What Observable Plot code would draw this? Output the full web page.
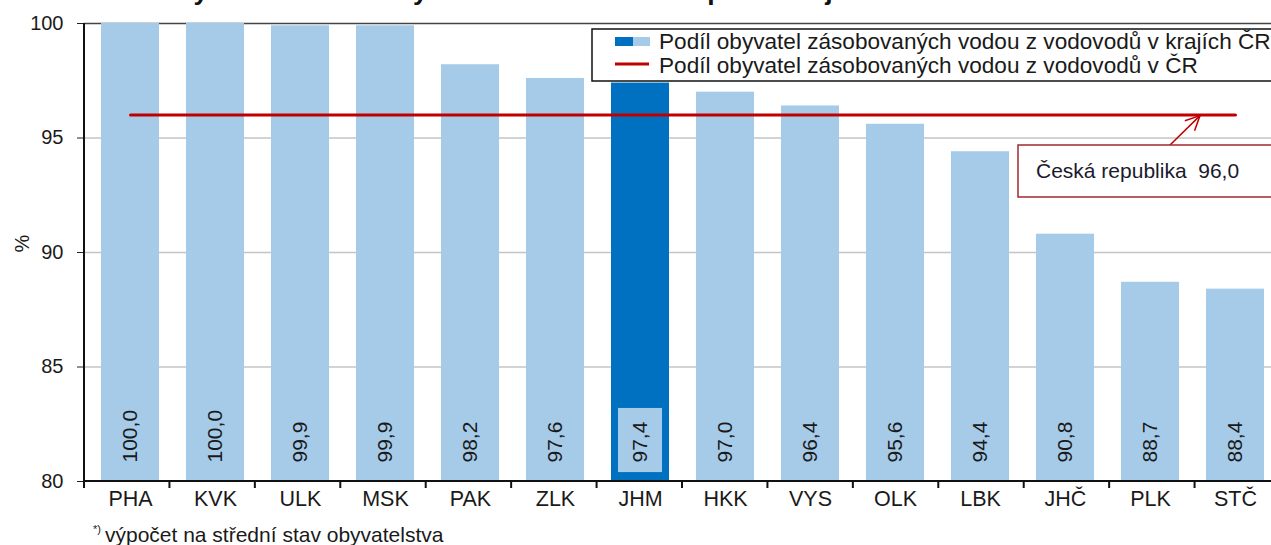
<!DOCTYPE html>
<html>
<head>
<meta charset="utf-8">
<script src="https://cdn.jsdelivr.net/npm/d3@7"></script>
<script src="https://cdn.jsdelivr.net/npm/@observablehq/plot@0.6"></script>
<style>
  body { margin: 0; background: #fff; font-family: Arial, "Liberation Sans", sans-serif; overflow: hidden; }
  #wrap { position: relative; width: 1271px; height: 545px; overflow: hidden; }
  #title { position: absolute; left: 5px; top: -22px; font-size: 26.5px; font-weight: bold; color: #111; white-space: nowrap; line-height: 26px; }
  #chart { position: absolute; left: 0; top: 0; }
  #note { position: absolute; left: 93px; top: 517px; font-size: 21px; color: #1a1a1a; white-space: nowrap; line-height: 25px; }
  #note sup { font-size: 11px; vertical-align: 9px; margin-right: 4px; }
</style>
</head>
<body>
<div id="wrap">
  <div id="title">Graf 1 Podíl obyvatel zásobovaných vodou z vodovodů podle krajů v roce 2019</div>
  <div id="chart"></div>
  <div id="note"><sup>*)</sup>výpočet na střední stav obyvatelstva</div>
</div>
<script>
const kraje = ["PHA","KVK","ULK","MSK","PAK","ZLK","JHM","HKK","VYS","OLK","LBK","JHČ","PLK","STČ"];
const podil = [100.0,100.0,99.9,99.9,98.2,97.6,97.4,97.0,96.4,95.6,94.4,90.8,88.7,88.4];
const zvyrazneny = "JHM";
const podilCR = 96.0;
const yTicks = [80,85,90,95,100];
const gridTicks = [85,90,95];
const legendLabels = ["Podíl obyvatel zásobovaných vodou z vodovodů v krajích ČR", "Podíl obyvatel zásobovaných vodou z vodovodů v ČR"];
const annotationText = "Česká republika  96,0";

const light = "#a6cbe8", dark = "#0070c0", red = "#c00000";
const data = kraje.map((k, i) => ({kraj: k, value: podil[i]}));
const fmt = v => d3.format(".1f")(v).replace(".", ",");

const chart = Plot.plot({
  width: 1271, height: 512,
  marginTop: 23, marginBottom: 31, marginLeft: 84, marginRight: 0,
  style: {fontFamily: "Arial, 'Liberation Sans', sans-serif", color: "#1a1a1a", background: "transparent"},
  x: {domain: kraje, range: [84, 1280], paddingInner: 0.32, paddingOuter: 0.16, label: null},
  y: {domain: [80, 100], range: [481, 23], label: null},
  marks: [
    Plot.gridY(gridTicks, {stroke: "#c4c4c4", strokeOpacity: 1, strokeWidth: 1.5}),
    Plot.ruleY([100], {stroke: "#444", strokeWidth: 1.5}),
    Plot.barY(data, {x: "kraj", y1: 80, y2: "value", fill: d => d.kraj === zvyrazneny ? dark : light}),
    Plot.barY(data.filter(d => d.kraj === zvyrazneny), {x: "kraj", y1: 80.39, y2: 83.19, fill: light, insetLeft: 7, insetRight: 7}),
    Plot.text(data, {x: "kraj", y: () => 80.83, text: d => fmt(d.value), rotate: -90, textAnchor: "start", fontSize: 21, fill: "#1a1a1a"}),
    Plot.lineY(data, {x: "kraj", y: () => podilCR, stroke: red, strokeWidth: 3}),
    Plot.axisY(yTicks, {tickSize: 7, tickPadding: 14, fontSize: 20, label: null, stroke: "#222"}),
    Plot.axisX({tickSize: 0, tickPadding: 9, fontSize: 21.5, label: null}),
    Plot.text(["%"], {frameAnchor: "left", dx: -62, rotate: -90, fontSize: 20, fill: "#1a1a1a"})
  ]
});
document.getElementById("chart").appendChild(chart);

// decorations drawn from the scales
const svg = d3.select(chart);
const xs = chart.scale("x"), ys = chart.scale("y");
const x0 = xs.range[0], x1 = xs.range[1];
const step = (x1 - x0) / kraje.length;
const yBase = ys.apply(80), yTop = ys.apply(100);
const g = svg.append("g");
g.append("line").attr("x1", 84).attr("x2", 84).attr("y1", yTop).attr("y2", yBase).attr("stroke", "#111").attr("stroke-width", 2);
g.append("line").attr("x1", 84).attr("x2", 1271).attr("y1", yBase).attr("y2", yBase).attr("stroke", "#111").attr("stroke-width", 2);
for (let i = 0; i <= kraje.length; i++) {
  const xp = x0 + i * step;
  g.append("line").attr("x1", xp).attr("x2", xp).attr("y1", yBase).attr("y2", yBase + 7).attr("stroke", "#111").attr("stroke-width", 2);
}
// legend
const lg = svg.append("g").attr("text-anchor", "start");
lg.append("rect").attr("x", 592).attr("y", 29).attr("width", 720).attr("height", 52).attr("fill", "#fff").attr("stroke", "#111").attr("stroke-width", 1.5);
lg.append("rect").attr("x", 615).attr("y", 37).attr("width", 18).attr("height", 9).attr("fill", dark);
lg.append("rect").attr("x", 633).attr("y", 37).attr("width", 17).attr("height", 9).attr("fill", light);
lg.append("line").attr("x1", 615).attr("x2", 649).attr("y1", 64).attr("y2", 64).attr("stroke", red).attr("stroke-width", 3);
legendLabels.forEach((t, i) => {
  lg.append("text").attr("x", 659).attr("y", 49 + i * 24).attr("font-size", 22.6).attr("fill", "#1a1a1a").attr("text-anchor", "start").text(t);
});
// annotation
const tipX = 1200, tipY = ys.apply(podilCR) + 1, tailX = 1168, tailY = 147;
const ag = svg.append("g").attr("text-anchor", "start");
ag.append("line").attr("x1", tailX).attr("y1", tailY).attr("x2", tipX).attr("y2", tipY).attr("stroke", red).attr("stroke-width", 1.5);
const ang = Math.atan2(tipY - tailY, tipX - tailX);
const wing = 16, spread = Math.PI / 7;
ag.append("path")
  .attr("d", `M${tipX - wing * Math.cos(ang - spread)},${tipY - wing * Math.sin(ang - spread)} L${tipX},${tipY} L${tipX - wing * Math.cos(ang + spread)},${tipY - wing * Math.sin(ang + spread)}`)
  .attr("fill", "none").attr("stroke", red).attr("stroke-width", 1.5);
ag.append("rect").attr("x", 1018).attr("y", 145).attr("width", 280).attr("height", 52).attr("fill", "#fff").attr("stroke", "#9e2a2f").attr("stroke-width", 1.5);
ag.append("text").attr("x", 1036).attr("y", 178).attr("font-size", 21).attr("fill", "#1a1a2e").attr("text-anchor", "start").style("white-space", "pre").text(annotationText);
</script>
</body>
</html>
